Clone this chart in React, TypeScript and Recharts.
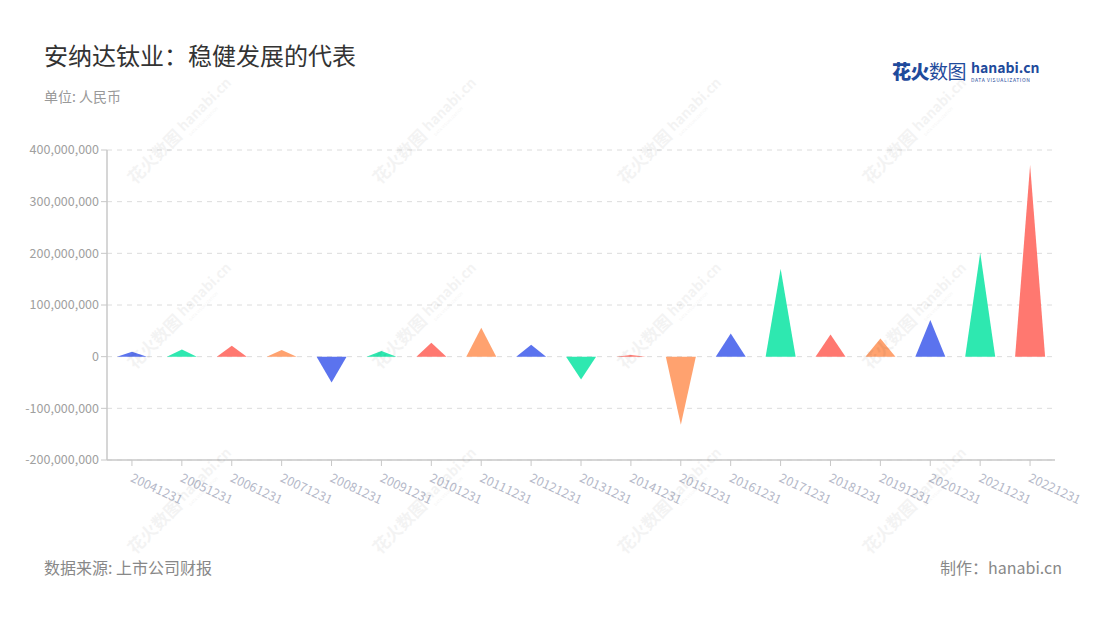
import React from 'react';
import { BarChart, Bar, XAxis, YAxis, CartesianGrid, Cell } from 'recharts';

const years = [
  '20041231', '20051231', '20061231', '20071231', '20081231', '20091231', '20101231',
  '20111231', '20121231', '20131231', '20141231', '20151231', '20161231', '20171231',
  '20181231', '20191231', '20201231', '20211231', '20221231',
];

// 净利润（元）
const profit = [
  9700000, 14000000, 21000000, 13000000, -50000000, 11000000, 27000000,
  56000000, 23000000, -44000000, 3000000, -132000000, 45000000, 170000000,
  43000000, 35000000, 71000000, 201000000, 371000000,
];

const yTicks = [-200000000, -100000000, 0, 100000000, 200000000, 300000000, 400000000];

const palette = ['#5b73ee', '#2ee8b0', '#ff7870', '#ffa26f'];

const data = years.map((year, i) => ({ year, value: profit[i] }));

const FONT = '"Noto Sans CJK SC", "Noto Sans", sans-serif';

const Triangle = (props: any) => {
  const { x, y, width, height, fill, value } = props;
  const a = y;
  const b = y + height;
  const base = value >= 0 ? Math.max(a, b) : Math.min(a, b);
  const tip = value >= 0 ? Math.min(a, b) : Math.max(a, b);
  const d = `M${x},${base} L${x + width / 2},${tip} L${x + width},${base} Z`;
  return <path d={d} fill={fill} />;
};

const XTick = (props: any) => {
  const { x, y, payload } = props;
  return (
    <g transform={`translate(${x + 2},${y + 4})`}>
      <text
        x={0}
        y={10}
        transform="rotate(25)"
        textAnchor="start"
        fill="#b4b8c8"
        fontSize={12.5}
        fontFamily={FONT}
      >
        {payload.value}
      </text>
    </g>
  );
};

const Watermark = ({ x, y }: { x: number; y: number }) => (
  <g transform={`translate(${x},${y}) rotate(-45)`} fill="#000" opacity={0.045}>
    <text x={0} y={0} fontSize={17} fontWeight={700} fontFamily={FONT}>花火数图</text>
    <text x={72} y={-3} fontSize={14} fontWeight={700} fontFamily={FONT}>hanabi.cn</text>
    <text x={74} y={5} fontSize={4} fontFamily={FONT}>DATA VISUALIZATION</text>
  </g>
);

const marks = [
  [135, 185], [380, 185], [625, 185], [870, 185],
  [135, 370], [380, 370], [625, 370], [870, 370],
  [135, 555], [380, 555], [625, 555], [870, 555],
];

export default function App() {
  return (
    <div
      style={{
        position: 'absolute',
        left: 0,
        top: 0,
        width: 1100,
        height: 620,
        background: '#fff',
        fontFamily: FONT,
        overflow: 'hidden',
      }}
    >
      <div style={{ position: 'absolute', left: 44, top: 37, fontSize: 24, color: '#333' }}>
        安纳达钛业：稳健发展的代表
      </div>
      <div style={{ position: 'absolute', left: 44, top: 86, fontSize: 14, color: '#999' }}>
        单位: 人民币
      </div>
      <div style={{ position: 'absolute', left: 892, top: 60, display: 'flex', alignItems: 'flex-start' }}>
        <span style={{ fontSize: 19, color: '#1f4b9c', letterSpacing: -0.5, lineHeight: '22px' }}>
          <span style={{ fontWeight: 900 }}>花火</span>
          <span style={{ fontWeight: 400 }}>数图</span>
        </span>
        <span style={{ marginLeft: 5, display: 'flex', flexDirection: 'column' }}>
          <span style={{ fontSize: 14, fontWeight: 700, color: '#1f4b9c', lineHeight: '15px' }}>hanabi.cn</span>
          <span style={{ fontSize: 5, color: '#1f4b9c', letterSpacing: 0.6, lineHeight: '7px', marginTop: 1 }}>
            DATA VISUALIZATION
          </span>
        </span>
      </div>

      <BarChart
        width={1100}
        height={620}
        data={data}
        margin={{ top: 150, right: 45, bottom: 100, left: 0 }}
        barSize={30}
      >
        <CartesianGrid vertical={false} stroke="#dcdcdc" strokeDasharray="5 5" />
        <XAxis
          dataKey="year"
          tick={<XTick />}
          interval={0}
          height={60}
          axisLine={{ stroke: '#c8c8c8', strokeWidth: 1.5 }}
          tickLine={{ stroke: '#c8c8c8' }}
          tickSize={6}
        />
        <YAxis
          width={107}
          domain={[-200000000, 400000000]}
          ticks={yTicks}
          tickFormatter={(v: number) => v.toLocaleString('en-US')}
          axisLine={{ stroke: '#c8c8c8', strokeWidth: 1.5 }}
          tickLine={{ stroke: '#c8c8c8' }}
          tickSize={6}
          tick={{ fill: '#a0a0a0', fontSize: 12.5, fontFamily: FONT }}
        />
        <Bar dataKey="value" shape={<Triangle />} isAnimationActive={false}>
          {data.map((d, i) => (
            <Cell key={d.year} fill={palette[i % palette.length]} />
          ))}
        </Bar>
      </BarChart>

      <svg
        width={1100}
        height={620}
        style={{ position: 'absolute', left: 0, top: 0, pointerEvents: 'none' }}
      >
        {marks.map(([mx, my], i) => (
          <Watermark key={i} x={mx} y={my} />
        ))}
      </svg>

      <div style={{ position: 'absolute', left: 44, top: 555, fontSize: 16, color: '#888' }}>
        数据来源: 上市公司财报
      </div>
      <div style={{ position: 'absolute', right: 38, top: 555, fontSize: 16, color: '#888' }}>
        制作：hanabi.cn
      </div>
    </div>
  );
}
